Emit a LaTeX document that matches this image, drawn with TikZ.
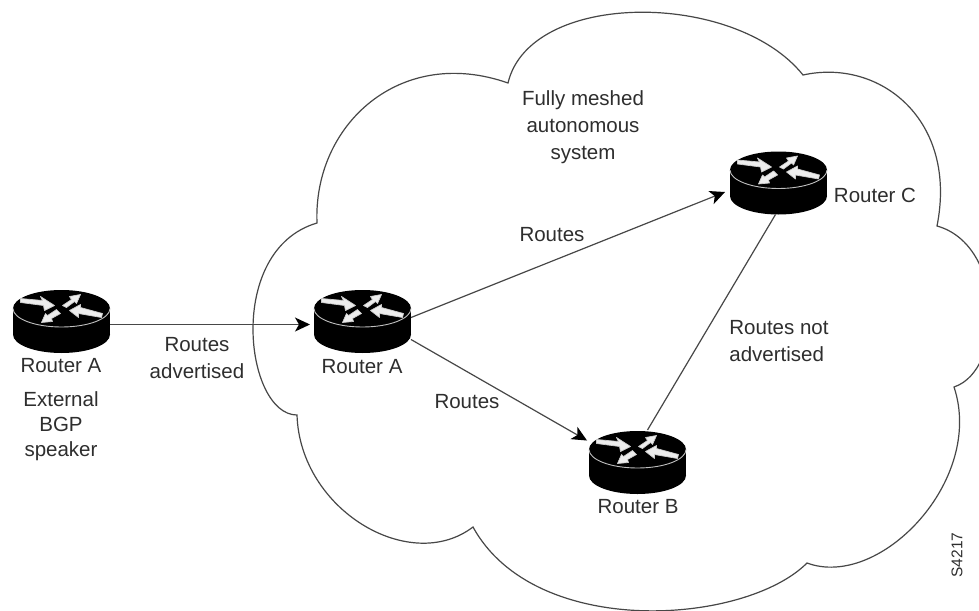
\documentclass[tikz,border=0pt]{standalone}
\usepackage{fontspec}
\setmainfont{Liberation Sans}
\usetikzlibrary{arrows.meta}
\definecolor{inkgray}{gray}{0.18}
\tikzset{
  routerbox/.style={minimum width=97pt,minimum height=63pt,inner sep=0pt,outer sep=0pt},
  lbl/.style={inner sep=0pt,text=inkgray,font=\fontsize{20.5}{26.5}\selectfont,align=center},
  cloudline/.style={draw=black!72,line width=1.2pt,line join=miter},
  link/.style={draw=black!72,line width=1.2pt},
  arrowed/.style={link,-{Stealth[length=15pt,width=14pt,inset=4pt,fill=black,color=black]}},
  wing/.style={fill=white!93!black,draw=white!80!black,line width=0.7pt,line join=round}
}
\newcommand{\routericon}[3]{%
  \node[routerbox] (#1) at (#2,#3) {};
  \begin{scope}[shift={(#2,#3)}]
    \fill[black] (0,13) ellipse[x radius=48.5,y radius=18.5];
    \fill[black] (-48.5,-13) rectangle (48.5,13);
    \fill[black] (0,-13) ellipse[x radius=48.5,y radius=18.5];
    \draw[white!75!black,line width=0.9pt] (-48.5,-13) arc[x radius=48.5,y radius=18.5,start angle=180,end angle=0];
    \begin{scope}[shift={(0,-13)}]
      \filldraw[wing] (-41,-10) -- (-19,-8) -- (-21,-12) -- (-7,-3) -- (-17,2) -- (-18,-3) -- (-41,-6) -- cycle;
      \filldraw[wing] (8,2) -- (19,-4) -- (19,-1) -- (41,5) -- (40,9) -- (17,5) -- (17,9) -- cycle;
      \filldraw[wing] (19,-14) -- (8,-12) -- (10,-9) -- (1,-3) -- (5,-1) -- (13,-7) -- (15,-5) -- cycle;
      \filldraw[wing] (-20,14) -- (-9,13) -- (-10,10) -- (-1,5) -- (-5,1) -- (-14,7) -- (-16,5) -- cycle;
    \end{scope}
  \end{scope}%
}
\begin{document}
\begin{tikzpicture}[x=1pt,y=-1pt]
\useasboundingbox (0,0) rectangle (979,610);
\fill[white] (0,0) rectangle (979,610);
% cloud
\draw[cloudline] (317,223)
  .. controls (313,125) and (400,45) .. (508,83)
  .. controls (530,-10) and (735,-10) .. (803,75)
  .. controls (880,58) and (958,120) .. (937,226)
  .. controls (1005,245) and (1005,370) .. (954,387)
  .. controls (985,480) and (880,590) .. (807,563)
  .. controls (745,625) and (535,640) .. (473,527)
  .. controls (410,575) and (300,510) .. (297,415)
  .. controls (245,415) and (225,250) .. (317,223) -- cycle;
% routers
\routericon{ext}{61.5}{321.5}
\routericon{ra}{362.5}{321.5}
\routericon{rc}{778.5}{183}
\routericon{rb}{637.5}{462.5}
% connectors
\draw[arrowed] ([yshift=-3pt]ext.east) -- ([xshift=-4pt,yshift=-3pt]ra.west);
\draw[arrowed] ([yshift=4pt]ra.east) -- ([xshift=-5pt,yshift=-9pt]rc.west);
\draw[arrowed] ([yshift=-18pt]ra.east) -- ([xshift=-2pt,yshift=22pt]rb.west);
\draw[link] ([xshift=-3pt]rc.south) -- ([xshift=10pt,yshift=1pt]rb.north);
% labels
\node[lbl] (t1) at (61,366) {Router A};
\node[lbl,font=\fontsize{20.5}{25}\selectfont] (t2) at (61,426) {External\\BGP\\speaker};
\node[lbl] (t3) at (197,358) {Routes\\advertised};
\node[lbl] (t4) at (362,367) {Router A};
\node[lbl] (t5) at (552,235) {Routes};
\node[lbl] (t6) at (467,402) {Routes};
\node[lbl] (t7) at (875,195) {Router C};
\node[lbl,align=left] (t8) at (779,341) {Routes not\\advertised};
\node[lbl] (t9) at (638,507) {Router B};
\node[lbl,font=\fontsize{20.5}{27}\selectfont] (t10) at (583,127) {Fully meshed\\autonomous\\system};
\node[lbl,font=\fontsize{15.5}{18}\selectfont,rotate=90] (t11) at (957,555) {S4217};
\end{tikzpicture}
\end{document}
